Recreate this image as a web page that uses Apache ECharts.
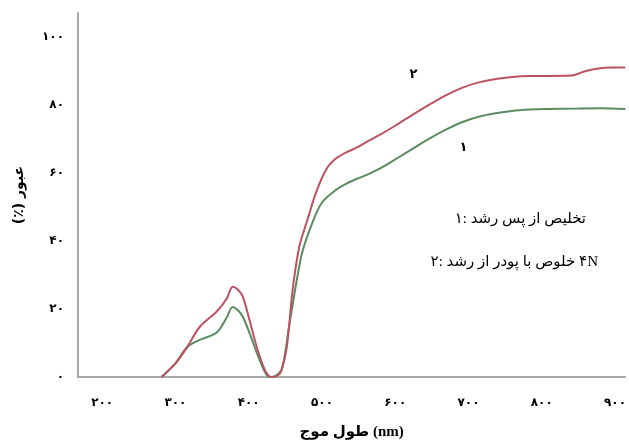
<!DOCTYPE html>
<html><head><meta charset="utf-8">
<script src="https://cdn.jsdelivr.net/npm/echarts@6/dist/echarts.min.js"></script>
<style>html,body{margin:0;padding:0;background:#fff}#c{width:629px;height:446px}</style>
</head><body><div id="c"></div>
<script>
// Series 2 (red): growth from 4N powder
const wl2 = [281,300,316,333,356,370,378,386,392,401,411,422,431,440,445,452,460,469,479,492,506,519,533,547,560,580,601,623,646,669,691,714,737,760,782,810,840,858,875,895,914];
const tr2 = [0,4,8.8,14.7,19.2,23,26.5,25.5,23.6,16.8,8.8,2.1,0,0.5,2.1,8.8,25.7,38.3,45.4,54.3,61.1,64.2,66.0,67.4,69.0,71.3,74.0,77.0,80.0,82.8,85.0,86.6,87.6,88.2,88.5,88.5,88.6,89.8,90.6,91,91];
// Series 1 (green): growth after purification
const wl1 = [281,300,316,333,356,370,378,386,392,401,415,428,438,446,455,465,473,487,500,519,533,547,565,582,605,623,646,669,691,714,737,759,782,805,850,880,914];
const tr1 = [0,4,8.8,10.9,13.0,17.5,20.6,19.5,17.7,13.0,5.0,0,0.5,2.9,14.7,27.7,36.6,45.4,51.3,55.0,56.8,58.2,59.8,61.6,64.6,67.0,70.0,72.7,74.9,76.5,77.5,78.2,78.6,78.8,78.9,79,78.8];
const xTicks = [200,300,400,500,600,700,800,900];
const yTicks = [0,20,40,60,80,100];
const legend1Words = ['۱:', 'رشد', 'پس', 'از', 'تخلیص'];
const legend2Words = ['۲:', 'رشد', 'از', 'پودر', 'با', 'خلوص', '۴N'];

const fa = v => String(v).replace(/\d/g, d => '۰۱۲۳۴۵۶۷۸۹'[d]);
const pairs = (xs, ys) => xs.map((x, i) => [x, ys[i]]);

const legendFont = '15px "Liberation Serif", "DejaVu Sans"';
const mctx = document.createElement('canvas').getContext('2d');
mctx.font = legendFont;
function wordLine(words, rightX, y) {
  const gap = mctx.measureText(' ').width;
  const ws = words.map(w => mctx.measureText(w).width);
  const total = ws.reduce((a, b) => a + b, 0) + gap * (words.length - 1);
  let x = rightX - total;
  return words.map((w, i) => {
    const el = {type: 'text', style: {x: x, y: y, text: w, font: legendFont, fill: '#000', align: 'left', verticalAlign: 'middle'}};
    x += ws[i] + gap;
    return el;
  });
}

const chart = echarts.init(document.getElementById('c'));
chart.setOption({
  animation: false,
  backgroundColor: '#fff',
  grid: {left: 78, right: 2, top: 13, bottom: 69},
  xAxis: {
    type: 'value', min: 167, max: 914, splitNumber: 7,
    name: 'طول موج (nm)', nameLocation: 'middle', nameGap: 48,
    nameTextStyle: {fontFamily: '"Liberation Serif", "DejaVu Sans"', fontWeight: 'bold', fontSize: 15, color: '#000'},
    axisLine: {lineStyle: {color: '#a8a8a8', width: 2}},
    axisTick: {show: false}, splitLine: {show: false},
    axisLabel: {
      showMinLabel: false, showMaxLabel: false, margin: 20,
      fontFamily: '"DejaVu Sans"', fontWeight: 'bold', fontSize: 12, color: '#000',
      formatter: v => xTicks.includes(Math.round(v)) ? fa(Math.round(v)) : ''
    }
  },
  yAxis: {
    type: 'value', min: 0, max: 107, interval: 20,
    name: '\u202Bعبور (٪)\u202C', nameLocation: 'middle', nameGap: 52, nameRotate: 90,
    nameTextStyle: {fontFamily: '"DejaVu Sans"', fontWeight: 'bold', fontSize: 14, color: '#000'},
    axisLine: {show: true, lineStyle: {color: '#a8a8a8', width: 2}},
    axisTick: {show: false}, splitLine: {show: false},
    axisLabel: {
      showMaxLabel: false, margin: 14,
      fontFamily: '"DejaVu Sans"', fontWeight: 'bold', fontSize: 12, color: '#000',
      formatter: v => yTicks.includes(Math.round(v)) ? fa(Math.round(v)) : ''
    }
  },
  series: [
    {
      type: 'line', data: pairs(wl2, tr2), showSymbol: false, smooth: 0.3,
      lineStyle: {color: '#bc5260', width: 2}, z: 3,
      markPoint: {symbol: 'circle', symbolSize: 0, label: {show: true, formatter: '۲', fontFamily: '"DejaVu Sans"', fontWeight: 'bold', fontSize: 13, color: '#000'}, data: [{coord: [625, 89]}]}
    },
    {
      type: 'line', data: pairs(wl1, tr1), showSymbol: false, smooth: 0.3,
      lineStyle: {color: '#5a8c60', width: 2}, z: 2,
      markPoint: {symbol: 'circle', symbolSize: 0, label: {show: true, formatter: '۱', fontFamily: '"DejaVu Sans"', fontWeight: 'bold', fontSize: 13, color: '#000'}, data: [{coord: [693, 67.5]}]}
    }
  ],
  graphic: [].concat(wordLine(legend1Words, 586, 219), wordLine(legend2Words, 598, 262))
});
</script></body></html>
